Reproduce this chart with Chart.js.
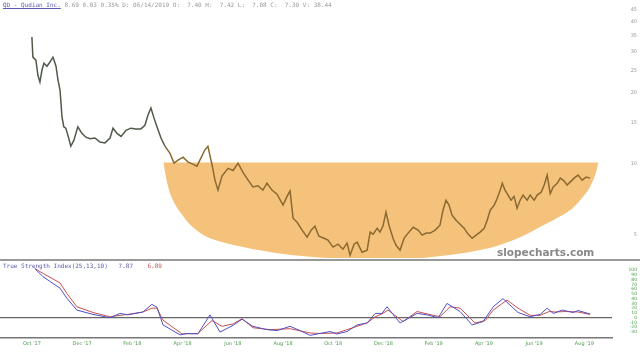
<!DOCTYPE html>
<html>
<head>
<meta charset="utf-8">
<script src="https://cdn.jsdelivr.net/npm/chart.js@4.4.1/dist/chart.umd.min.js"></script>
<style>
  html, body { margin: 0; padding: 0; background: #fff; }
  #wrap { position: relative; width: 640px; height: 352px; overflow: hidden; }
  #priceBox { position: absolute; left: 0; top: 0; width: 640px; height: 260px; }
  #tsiBox { position: absolute; left: 0; top: 258px; width: 640px; height: 94px; }
  .hdr { position: absolute; left: 3px; font-family: 'DejaVu Sans Mono', monospace; font-size: 6px; white-space: pre; color: #999; }
  .hdr .sym { color: #5a5ab0; text-decoration: underline; }
  #tsiLabel { color: #5a5ab0; }
  #tsiLabel .sig { color: #c85050; }
  #brand { position: absolute; left: 497px; top: 246px; font-family: 'DejaVu Sans', sans-serif; font-weight: bold; font-size: 10.5px; color: #888; }
</style>
</head>
<body>
<div id="wrap">
  <div id="priceBox"><canvas id="priceChart"></canvas></div>
  <div id="tsiBox"><canvas id="tsiChart"></canvas></div>
  <div class="hdr" style="top:1px"><span class="sym">QD - Qudian Inc.</span> 8.69 0.03 0.35% D: 06/14/2019 O:  7.40 H:  7.42 L:  7.08 C:  7.30 V: 38.44</div>
  <div class="hdr" id="tsiLabel" style="top:262px">True Strength Index(25,13,10)   7.87    <span class="sig">6.89</span></div>
  <div id="brand">slopecharts.com</div>
</div>
<script>
// x values are months counted from Oct '17
const monthTicks = [0, 2, 4, 6, 8, 10, 12, 14, 16, 18, 20, 22];
const monthLabels = ["Oct '17", "Dec '17", "Feb '18", "Apr '18", "Jun '18", "Aug '18",
                     "Oct '18", "Dec '18", "Feb '19", "Apr '19", "Jun '19", "Aug '19"];
const priceTicks = [5, 10, 15, 20, 25, 30, 35, 40, 45];
const tsiTicks = [100, 90, 80, 70, 60, 50, 40, 30, 20, 10, 0, -10, -20, -30];

// QD closing prices
const priceX = [0, 0.04, 0.16, 0.24, 0.32, 0.40, 0.48, 0.60, 0.72, 0.84, 0.96, 1.04, 1.12, 1.20, 1.27, 1.35, 1.43, 1.55, 1.67, 1.83,
  1.99, 2.15, 2.31, 2.51, 2.71, 2.91, 3.11, 3.23, 3.39, 3.55, 3.75, 3.94, 4.14, 4.34, 4.50, 4.62, 4.74, 4.86, 4.98, 5.14,
  5.30, 5.50, 5.66, 5.82, 6.02, 6.22, 6.41, 6.57, 6.73, 6.89, 7.01, 7.13, 7.17, 7.29, 7.41, 7.57, 7.81, 8.01, 8.21, 8.41,
  8.61, 8.80, 9.00, 9.20, 9.36, 9.56, 9.76, 10.00, 10.16, 10.28, 10.40, 10.56, 10.76, 10.96, 11.12, 11.27, 11.43, 11.63, 11.79, 11.99,
  12.19, 12.39, 12.55, 12.67, 12.83, 12.95, 13.15, 13.35, 13.47, 13.59, 13.75, 13.86, 13.98, 14.10, 14.22, 14.38, 14.50, 14.66, 14.82, 14.98,
  15.18, 15.38, 15.54, 15.70, 15.86, 16.06, 16.25, 16.37, 16.49, 16.61, 16.73, 16.89, 17.05, 17.21, 17.37, 17.53, 17.69, 17.85, 18.01, 18.13,
  18.25, 18.41, 18.53, 18.65, 18.73, 18.84, 18.96, 19.08, 19.20, 19.32, 19.44, 19.56, 19.72, 19.84, 20.00, 20.12, 20.28, 20.40, 20.52, 20.64,
  20.76, 20.92, 21.04, 21.20, 21.31, 21.43, 21.59, 21.75, 21.91, 22.07, 22.23];
const priceClose = [34.6, 28.4, 27.6, 23.8, 22.3, 25.0, 26.8, 26.0, 27.1, 28.4, 26.0, 22.7, 20.6, 15.8, 14.4, 14.2, 13.3, 11.9, 12.6, 14.4,
  13.5, 13.0, 12.8, 12.9, 12.4, 12.3, 12.9, 14.2, 13.5, 13.1, 13.9, 14.2, 14.1, 14.1, 14.6, 16.1, 17.3, 15.7, 14.4, 12.9,
  11.9, 11.1, 10.1, 10.4, 10.7, 10.2, 10.0, 9.8, 10.6, 11.5, 11.9, 10.4, 10.0, 8.55, 7.76, 8.9, 9.6, 9.4, 10.1, 9.2,
  8.55, 8.0, 8.1, 7.76, 8.3, 7.76, 7.46, 6.7, 7.3, 7.7, 5.9, 5.67, 5.25, 4.9, 5.25, 5.46, 4.95, 4.85, 4.76, 4.45,
  4.58, 4.36, 4.63, 4.11, 4.58, 4.67, 4.23, 4.32, 5.15, 5.05, 5.35, 5.15, 5.46, 6.26, 5.51, 4.85, 4.53, 4.32, 4.85, 5.1,
  5.4, 5.25, 5.0, 5.1, 5.1, 5.25, 5.51, 6.38, 7.03, 6.7, 6.08, 5.78, 5.56, 5.35, 5.05, 4.85, 5.0, 5.15, 5.35, 5.78,
  6.38, 6.7, 7.17, 7.76, 8.3, 7.76, 7.39, 7.03, 7.3, 6.5, 7.03, 7.39, 7.03, 7.39, 7.03, 7.39, 7.6, 8.15, 8.98, 7.5,
  8.0, 8.3, 8.72, 8.47, 8.15, 8.39, 8.72, 8.98, 8.55, 8.81, 8.72];

// rounding-bottom bowl outline (x in months, y in price)
const bowlX = [5.24, 5.30, 5.42, 5.58, 5.90, 6.41, 7.09, 8.41, 9.48, 10.40, 11.99, 13.86, 15.86, 17.85, 19.16, 20.52, 21.43, 21.83, 22.15, 22.35, 22.47, 22.55];
const bowlY = [10.15, 9.25, 8.07, 7.17, 6.26, 5.4, 4.85, 4.45, 4.24, 4.11, 3.99, 3.95, 4.03, 4.32, 4.76, 5.62, 6.38, 7.03, 7.76, 8.55, 9.25, 10.15];
const bowlTop = 10.15;

// True Strength Index (25,13,10) and its signal line
const tsiX = [0.12, 0.44, 1.12, 1.39, 1.79, 2.43, 3.11, 3.51, 3.82, 4.42, 4.78, 4.98, 5.22, 5.90, 6.18, 6.61, 7.09, 7.49, 8.01, 8.37,
  8.80, 9.36, 9.76, 10.28, 10.68, 11.08, 11.47, 11.87, 12.15, 12.55, 12.95, 13.35, 13.67, 13.94, 14.14, 14.66, 15.34, 15.74, 16.18, 16.53,
  17.05, 17.53, 17.97, 18.37, 18.76, 19.36, 19.84, 20.24, 20.52, 20.76, 21.12, 21.55, 21.75, 22.23];
const tsiValues = [103, 86, 62, 41, 16, 7, 0, 9, 6, 12, 28, 22, -15, -36, -33, -34, 6, -30, -16, -3,
  -18, -25, -27, -18, -27, -37, -33, -29, -34, -29, -15, -11, 9, 9, 23, -11, 9, 6, 0, 30,
  13, -15, -8, 23, 40, 11, 2, 7, 20, 9, 16, 11, 15, 7.87];
const sigX = [0.12, 0.44, 1.12, 1.39, 1.79, 2.43, 3.11, 3.51, 3.82, 4.42, 4.78, 4.98, 5.22, 5.98, 6.61, 7.17, 7.57, 8.01, 8.37, 8.80,
  9.48, 10.28, 11.08, 11.47, 12.15, 12.95, 13.35, 13.67, 13.94, 14.18, 14.78, 15.34, 15.74, 16.25, 16.65, 17.05, 17.65, 18.05, 18.37, 18.92,
  19.36, 19.84, 20.24, 20.60, 20.84, 21.24, 21.75, 22.23];
const sigValues = [103, 93, 73, 51, 23, 11, 2, 5, 7, 12, 20, 20, -5, -34, -33, -6, -18, -13, -2, -21,
  -25, -23, -32, -33, -32, -18, -11, 2, 8, 16, -8, 13, 8, 2, 23, 20, -11, -6, 16, 37,
  20, 5, 5, 13, 12, 13, 12, 6.89];

const X_MIN = -1.27, X_MAX = 23.1;
const zip = (xs, ys) => xs.map((x, i) => ({ x: x, y: ys[i] }));

// fixed-width right axis, and no extra padding for the end labels
const rightAxisFit = axis => {
  axis.width = 25;
  axis.paddingTop = 0;
  axis.paddingBottom = 0;
};

// draws the dark separator line along the top of a panel
const panelTopLine = {
  id: 'panelTopLine',
  afterDraw(chart) {
    const { ctx, chartArea } = chart;
    ctx.save();
    ctx.strokeStyle = '#777';
    ctx.lineWidth = 1.5;
    ctx.beginPath();
    ctx.moveTo(0, chartArea.top);
    ctx.lineTo(chart.width, chartArea.top);
    ctx.stroke();
    ctx.restore();
  }
};

new Chart(document.getElementById('priceChart'), {
  type: 'line',
  data: {
    datasets: [
      {
        label: 'QD',
        data: zip(priceX, priceClose),
        borderColor: '#7c6438',
        borderWidth: 1.5,
        pointRadius: 0,
        tension: 0,
        segment: {
          borderColor: c => c.p0.parsed.x < 5.2 ? '#4f5a48' : '#8a6a30'
        }
      },
      {
        label: 'bowl',
        data: zip(bowlX, bowlY),
        borderColor: 'rgba(0,0,0,0)',
        borderWidth: 0,
        backgroundColor: '#f5c27c',
        pointRadius: 0,
        tension: 0.35,
        fill: { value: bowlTop }
      }
    ]
  },
  options: {
    responsive: true,
    maintainAspectRatio: false,
    animation: false,
    layout: { padding: { top: 10, bottom: 2, left: 0, right: 3 } },
    plugins: { legend: { display: false }, tooltip: { enabled: false } },
    scales: {
      x: { type: 'linear', min: X_MIN, max: X_MAX, bounds: 'data', display: false },
      y: {
        type: 'logarithmic',
        position: 'right',
        min: 4, max: 45,
        bounds: 'data',
        afterFit: rightAxisFit,
        afterBuildTicks: axis => { axis.ticks = priceTicks.map(v => ({ value: v })); },
        grid: { display: false },
        border: { display: false },
        ticks: {
          font: { size: 5, family: 'DejaVu Sans' },
          color: '#999',
          padding: 2,
          autoSkip: false,
          crossAlign: 'far',
          callback: v => String(v)
        }
      }
    }
  }
});

new Chart(document.getElementById('tsiChart'), {
  type: 'line',
  data: {
    datasets: [
      {
        label: 'TSI',
        data: zip(tsiX, tsiValues),
        borderColor: '#5050c8',
        borderWidth: 1,
        pointRadius: 0,
        tension: 0
      },
      {
        label: 'Signal',
        data: zip(sigX, sigValues),
        borderColor: '#c85050',
        borderWidth: 1,
        pointRadius: 0,
        tension: 0
      }
    ]
  },
  options: {
    responsive: true,
    maintainAspectRatio: false,
    animation: false,
    layout: { padding: { top: 2, bottom: 0, left: 0, right: 3 } },
    plugins: { legend: { display: false }, tooltip: { enabled: false } },
    scales: {
      x: {
        type: 'linear', min: X_MIN, max: X_MAX, bounds: 'data',
        afterFit: axis => { axis.height = 14; },
        afterBuildTicks: axis => { axis.ticks = monthTicks.map(v => ({ value: v })); },
        grid: { display: false, drawTicks: false, tickLength: 0 },
        border: { display: true, color: '#777', width: 1.5 },
        ticks: {
          font: { size: 5, family: 'DejaVu Sans' },
          color: '#4a9a4a',
          padding: 3,
          maxRotation: 0,
          autoSkip: false,
          callback: v => monthLabels[monthTicks.indexOf(v)]
        }
      },
      y: {
        position: 'right',
        min: -42.5, max: 121,
        bounds: 'data',
        afterFit: rightAxisFit,
        afterBuildTicks: axis => { axis.ticks = tsiTicks.map(v => ({ value: v })); },
        grid: {
          drawTicks: false,
          color: c => c.tick && c.tick.value === 0 ? '#666' : 'rgba(0,0,0,0)',
          lineWidth: 1.2
        },
        border: { display: false },
        ticks: {
          font: { size: 4.5, family: 'DejaVu Sans' },
          color: '#4a9a4a',
          padding: 3,
          autoSkip: false,
          crossAlign: 'far',
          callback: v => String(v)
        }
      }
    }
  },
  plugins: [panelTopLine]
});
</script>
</body>
</html>
